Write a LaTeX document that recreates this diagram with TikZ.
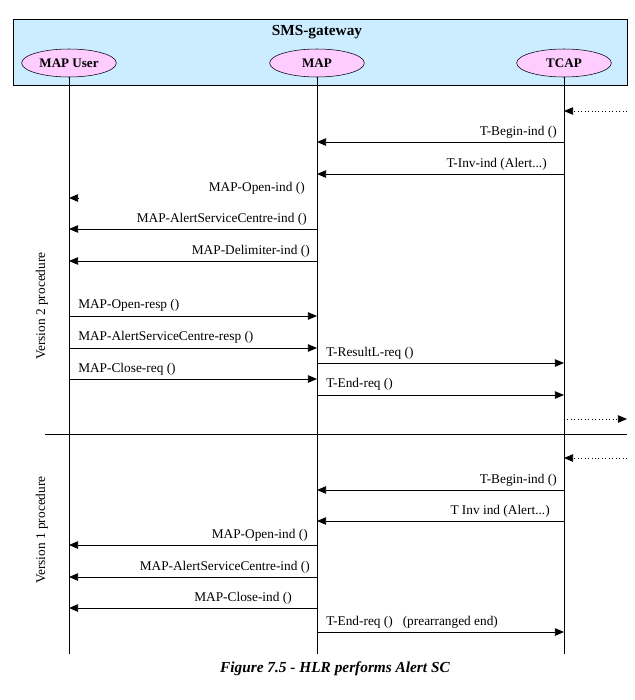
\documentclass[tikz,border=0pt]{standalone}
\usepackage{fontspec}
\setmainfont{Liberation Serif}
\usetikzlibrary{shapes.geometric,arrows.meta}
\definecolor{gwblue}{HTML}{CCECFF}
\definecolor{entpink}{HTML}{FFCCFF}
\begin{document}
\begin{tikzpicture}[x=0.75pt,y=-0.75pt,
  ent/.style={ellipse,draw,fill=entpink,minimum width=71pt,minimum height=21pt,inner sep=0pt,font=\bfseries\fontsize{9.8}{11}\selectfont},
  msg/.style={-{Triangle[length=6.8pt,width=5.6pt]},line width=0.6pt},
  dmsg/.style={msg,dotted},
  lbl/.style={font=\fontsize{10}{11}\selectfont,inner sep=0pt},
  lblr/.style={lbl,anchor=base east},
  lbll/.style={lbl,anchor=base west},
  life/.style={line width=0.6pt}]
\useasboundingbox (0,0) rectangle (635,700);
% gateway box
\node[draw,fill=gwblue,line width=0.6pt,minimum width=460.5pt,minimum height=49.5pt,inner sep=0pt,anchor=north west] (gw) at (13,19) {};
\node[font=\bfseries\fontsize{11.5}{13}\selectfont] (gwt) at (317,32) {SMS-gateway};
\node[ent] (u) at (69,63) {MAP User};
\node[ent] (m) at (317,63) {MAP};
\node[ent] (t) at (564,63) {TCAP};
% lifelines
\coordinate (ue) at (69,654);
\coordinate (me) at (317,654);
\coordinate (te) at (564,654);
\draw[life] (u.south) -- (ue);
\draw[life] (m.south) -- (me);
\draw[life] (t.south) -- (te);
% external ends
\coordinate (x1) at (627,111);
\coordinate (x2) at (627,419);
\coordinate (x3) at (627,458);
% group 1
\draw[dmsg] (x1) -- (t |- x1);
\draw[msg] (t |- 0,142) -- (m |- 0,142);
\node[lblr] (l1) at (557,135) {T-Begin-ind ()};
\draw[msg] (t |- 0,174) -- (m |- 0,174);
\node[lblr] (l2) at (547,167) {T-Inv-ind (Alert...)};
\coordinate (oi) at (79,198);
\draw[msg] (oi) -- (u |- oi);
\node[lblr] (l3) at (305,191) {MAP-Open-ind ()};
\draw[msg] (m |- 0,229) -- (u |- 0,229);
\node[lblr] (l4) at (307,222) {MAP-AlertServiceCentre-ind ()};
\draw[msg] (m |- 0,261) -- (u |- 0,261);
\node[lblr] (l5) at (310,254) {MAP-Delimiter-ind ()};
\draw[msg] (u |- 0,316) -- (m |- 0,316);
\node[lbll] (l6) at (78,308) {MAP-Open-resp ()};
\draw[msg] (u |- 0,348) -- (m |- 0,348);
\node[lbll] (l7) at (78,340) {MAP-AlertServiceCentre-resp ()};
\draw[msg] (u |- 0,379) -- (m |- 0,379);
\node[lbll] (l8) at (78,372) {MAP-Close-req ()};
\draw[msg] (m |- 0,363) -- (t |- 0,363);
\node[lbll] (l9) at (326,356) {T-ResultL-req ()};
\draw[msg] (m |- 0,395) -- (t |- 0,395);
\node[lbll] (l10) at (326,387) {T-End-req ()};
\draw[dmsg] (t |- x2) -- (x2);
% separator
\coordinate (s1) at (45,434);
\coordinate (s2) at (627,434);
\draw[life] (s1) -- (s2);
% group 2
\draw[dmsg] (x3) -- (t |- x3);
\draw[msg] (t |- 0,490) -- (m |- 0,490);
\node[lblr] (l11) at (557,483) {T-Begin-ind ()};
\draw[msg] (t |- 0,521) -- (m |- 0,521);
\node[lblr] (l12) at (550,514) {T Inv ind (Alert...)};
\draw[msg] (m |- 0,545) -- (u |- 0,545);
\node[lblr] (l13) at (308,538) {MAP-Open-ind ()};
\draw[msg] (m |- 0,577) -- (u |- 0,577);
\node[lblr] (l14) at (310,570) {MAP-AlertServiceCentre-ind ()};
\draw[msg] (m |- 0,608) -- (u |- 0,608);
\node[lblr] (l15) at (292,601) {MAP-Close-ind ()};
\draw[msg] (m |- 0,632) -- (t |- 0,632);
\node[lbll] (l16) at (326,625) {T-End-req ()\ \ \ (prearranged end)};
% side labels
\node[lbl,rotate=90,anchor=base west] (v2) at (45,360) {Version 2 procedure};
\node[lbl,rotate=90,anchor=base west] (v1) at (45,584) {Version 1 procedure};
% caption
\node[font=\bfseries\itshape\fontsize{11.5}{13}\selectfont] (cap) at (335,669) {Figure 7.5 - HLR performs Alert SC};
\end{tikzpicture}
\end{document}
